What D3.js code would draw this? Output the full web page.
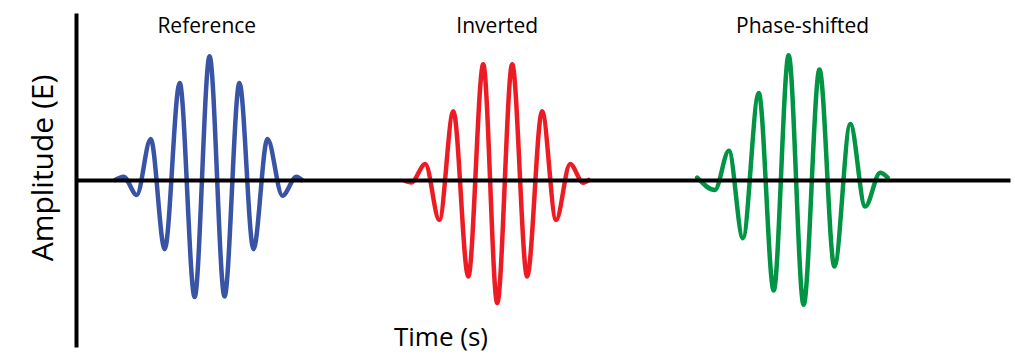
<!DOCTYPE html>
<html>
<head>
<meta charset="utf-8">
<script src="https://cdn.jsdelivr.net/npm/d3@7"></script>
<style>
  body { margin: 0; background: #fff; }
  text { font-family: 'Open Sans', sans-serif; fill: #000; }
</style>
</head>
<body>
<svg id="chart"></svg>
<script>
// Series names and the time at which each title sits.
const seriesNames = ['Reference', 'Inverted', 'Phase-shifted'];
const titleTimes = [1.40, 4.51, 7.78];
const seriesColors = ['#3a54a5', '#ed1c24', '#009444'];

// Extrema of each wave packet (time s, amplitude).
const referenceTime = [0.42, 0.51, 0.65, 0.80, 0.95, 1.11, 1.27, 1.43, 1.59, 1.75, 1.90, 2.05, 2.21, 2.36, 2.42];
const referenceAmp = [0, 0.027, -0.121, 0.331, -0.559, 0.785, -0.946, 1.0, -0.941, 0.785, -0.559, 0.331, -0.127, 0.027, 0];

const invertedTime = [3.53, 3.59, 3.74, 3.89, 4.04, 4.20, 4.36, 4.51, 4.67, 4.83, 4.99, 5.14, 5.29, 5.43, 5.49];
const invertedAmp = [-0.01, -0.02, 0.129, -0.323, 0.556, -0.780, 0.935, -0.995, 0.935, -0.780, 0.556, -0.323, 0.129, -0.022, 0];

const shiftedTime = [6.65, 6.84, 6.99, 7.14, 7.31, 7.47, 7.63, 7.79, 7.96, 8.12, 8.29, 8.45, 8.61, 8.69];
const shiftedAmp = [0.02, -0.081, 0.236, -0.470, 0.704, -0.893, 1.008, -1.008, 0.893, -0.700, 0.452, -0.215, 0.059, 0.02];

const width = 1015;
const height = 363;

// Scales.
const x = d3.scaleLinear().domain([0, 10]).range([76, 1010]);
const y = d3.scaleLinear().domain([-1.35, 1.35]).range([347, 13]);

const svg = d3.select('#chart')
  .attr('width', width)
  .attr('height', height);

const series = [
  d3.zip(referenceTime, referenceAmp),
  d3.zip(invertedTime, invertedAmp),
  d3.zip(shiftedTime, shiftedAmp)
];

const line = d3.line()
  .x(d => x(d[0]))
  .y(d => y(d[1]))
  .curve(d3.curveMonotoneX);

// Wave packets.
svg.append('g')
  .selectAll('path')
  .data(series)
  .join('path')
  .attr('d', line)
  .attr('fill', 'none')
  .attr('stroke', (d, i) => seriesColors[i])
  .attr('stroke-width', 4.5)
  .attr('stroke-linejoin', 'round')
  .attr('stroke-linecap', 'round');

// Titles above each packet.
svg.append('g')
  .selectAll('text')
  .data(seriesNames)
  .join('text')
  .attr('x', (d, i) => x(titleTimes[i]))
  .attr('y', 33)
  .attr('text-anchor', 'middle')
  .style('font-size', '21px')
  .text(d => d);

// Axes, no ticks, drawn on top of the waves.
const xAxis = d3.axisBottom(x).ticks(0).tickSizeOuter(0);
const yAxis = d3.axisLeft(y).ticks(0).tickSizeOuter(0);

svg.append('g')
  .attr('transform', `translate(0,${y(0)})`)
  .call(xAxis)
  .call(g => g.select('.domain').attr('stroke', '#000').attr('stroke-width', 4));

svg.append('g')
  .attr('transform', `translate(${x(0)},0)`)
  .call(yAxis)
  .call(g => g.select('.domain').attr('stroke', '#000').attr('stroke-width', 4));

// Axis labels.
svg.append('text')
  .attr('x', 441)
  .attr('y', 346)
  .attr('text-anchor', 'middle')
  .style('font-size', '26px')
  .text('Time (s)');

svg.append('text')
  .attr('transform', 'translate(53,168) rotate(-90)')
  .attr('text-anchor', 'middle')
  .style('font-size', '30px')
  .text('Amplitude (E)');
</script>
</body>
</html>
